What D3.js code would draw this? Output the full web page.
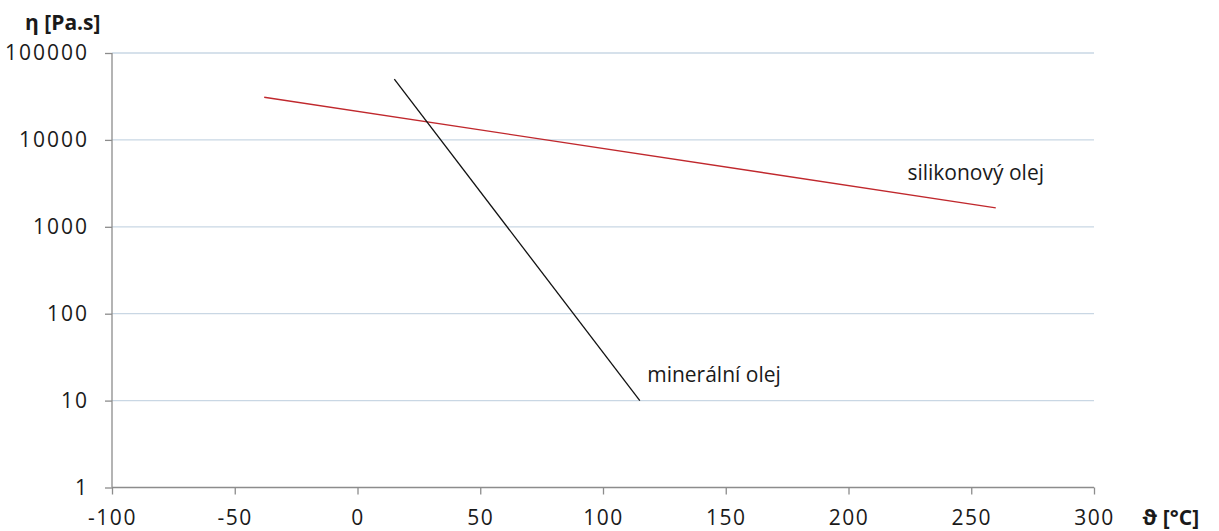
<!DOCTYPE html>
<html>
<head>
<meta charset="utf-8">
<script src="https://cdn.jsdelivr.net/npm/d3@7"></script>
<style>
  body { margin: 0; background: #fff; }
  svg text { font-family: "Open Sans", "Noto Sans", sans-serif; fill: #1a1a1a; }
</style>
</head>
<body>
<div id="chart"></div>
<script>
// data
const xTicks = [-100, -50, 0, 50, 100, 150, 200, 250, 300];
const yTicks = [1, 10, 100, 1000, 10000, 100000];

const siliconT = [-38, 260];
const siliconEta = [31000, 1650];
const mineralT = [15, 115];
const mineralEta = [50000, 10];

const seriesNames = ["silikonový olej", "minerální olej"];
const labelPos = [[224, 4200], [118, 20]];

function drawChart() {
  const W = 1219, H = 531;
  const margin = { top: 53, right: 125, bottom: 43.5, left: 112 };
  const innerW = W - margin.left - margin.right;
  const innerH = H - margin.top - margin.bottom;

  const svg = d3.select("#chart").append("svg")
    .attr("width", W)
    .attr("height", H);

  const g = svg.append("g").attr("transform", `translate(${margin.left},${margin.top})`);

  const x = d3.scaleLinear().domain([-100, 300]).range([0, innerW]);
  const y = d3.scaleLog().domain([1, 100000]).range([innerH, 0]);

  // gridlines (light blue)
  g.append("g")
    .selectAll("line")
    .data(yTicks.filter(d => d > 1))
    .enter().append("line")
    .attr("x1", 0).attr("x2", innerW)
    .attr("y1", d => y(d)).attr("y2", d => y(d))
    .attr("stroke", "#c9d7e4")
    .attr("stroke-width", 1.3);

  // y axis
  g.append("g")
    .call(d3.axisLeft(y).tickValues(yTicks).tickFormat(d3.format("d")).tickSize(7).tickPadding(16))
    .call(a => a.selectAll("line, path").attr("stroke", "#8c8c8c").attr("stroke-width", 1.3))
    .call(a => a.select(".domain").attr("d", `M0,0V${innerH}`))
    .call(a => a.selectAll("text")
      .style("font-size", "21px").style("letter-spacing", "2px").attr("fill", "#1a1a1a"));

  // x axis, plain hyphen for minus
  g.append("g")
    .attr("transform", `translate(0,${innerH})`)
    .call(d3.axisBottom(x).tickValues(xTicks).tickFormat(d => String(d)).tickSize(7).tickPadding(16))
    .call(a => a.selectAll("line, path").attr("stroke", "#8c8c8c").attr("stroke-width", 1.3))
    .call(a => a.select(".domain").attr("d", `M0,0H${innerW}`))
    .call(a => a.selectAll("text")
      .style("font-size", "21px").style("letter-spacing", "1.5px").attr("fill", "#1a1a1a"));

  const line = d3.line()
    .x(d => x(d[0]))
    .y(d => y(d[1]));

  g.append("path")
    .datum(d3.zip(siliconT, siliconEta))
    .attr("fill", "none")
    .attr("stroke", "#c0282d")
    .attr("stroke-width", 1.4)
    .attr("d", line);

  g.append("path")
    .datum(d3.zip(mineralT, mineralEta))
    .attr("fill", "none")
    .attr("stroke", "#111")
    .attr("stroke-width", 1.3)
    .attr("d", line);

  // series labels
  seriesNames.forEach((name, i) => {
    g.append("text")
      .attr("x", x(labelPos[i][0]))
      .attr("y", y(labelPos[i][1]))
      .attr("dy", "0.35em")
      .style("font-size", "21px")
      .text(name);
  });

  // axis titles
  svg.append("text")
    .attr("x", 25).attr("y", 30)
    .style("font-size", "21px").style("font-weight", "700")
    .text("η [Pa.s]");

  svg.append("text")
    .attr("x", 1142).attr("y", 525)
    .style("font-size", "21px").style("font-weight", "700")
    .text("ϑ [°C]");
}

drawChart();
</script>
</body>
</html>
